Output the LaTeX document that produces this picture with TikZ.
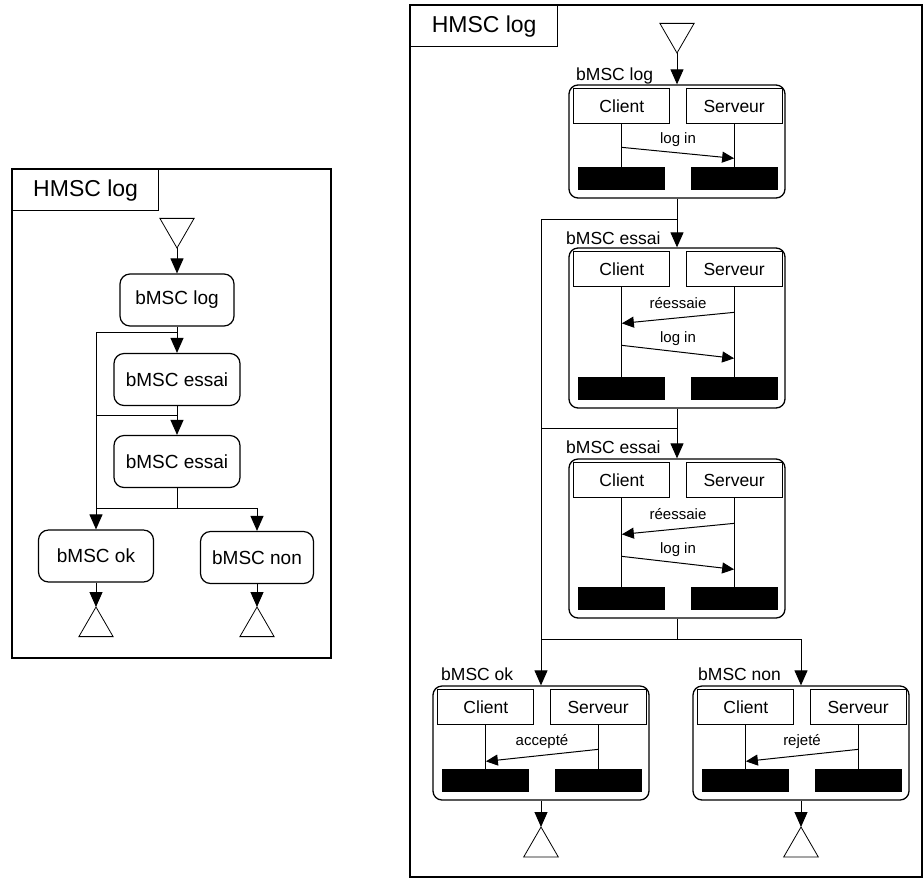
\documentclass[tikz,border=0pt]{standalone}
\usepackage{fontspec}
\setmainfont{Liberation Sans}
\usetikzlibrary{arrows.meta,positioning,shapes.geometric}

\tikzset{
  hframe/.style={draw, line width=1.3pt},
  ftitle/.style={draw, line width=1.3pt, anchor=north west, minimum height=41pt, font=\fontsize{23}{27}\selectfont},
  hbox/.style={draw, line width=1.2pt, rounded corners=10pt, minimum height=52pt, font=\fontsize{19}{22}\selectfont},
  bmsc/.style={draw, line width=1.3pt, rounded corners=9pt, minimum width=216pt},
  tag/.style={anchor=base west, inner sep=0pt, font=\fontsize{17.5}{20}\selectfont},
  head/.style={draw, line width=1pt, minimum width=96pt, minimum height=35pt, inner sep=0pt, font=\fontsize{17.5}{20}\selectfont},
  bar/.style={fill=black, minimum width=87pt, minimum height=23pt, inner sep=0pt, anchor=south},
  lbl/.style={anchor=base, yshift=9.5pt, inner sep=0pt, font=\fontsize{15}{18}\selectfont},
  flow/.style={line width=1pt, -{Triangle[length=15pt,width=13pt]}},
  msg/.style={line width=1pt, -{Triangle[length=12pt,width=11pt]}},
  begintri/.style={draw, regular polygon, regular polygon sides=3, shape border rotate=180, minimum size=39.5pt, inner sep=0pt, outer sep=0pt, line width=0.8pt, anchor=corner 1},
  endtri/.style={draw, regular polygon, regular polygon sides=3, minimum size=40pt, inner sep=0pt, outer sep=0pt, line width=0.8pt, anchor=corner 1},
}

% instance heads, life lines and end bars of one bMSC
\newcommand{\lanes}[2]{%
  \node[head, below right=4pt and 5pt of #2.north west] (#1c) {Client};
  \node[head, below left=4pt and 3pt of #2.north east] (#1s) {Serveur};
  \node[bar] (#1cb) at ([yshift=8pt]#2.south -| #1c) {};
  \node[bar] (#1sb) at ([yshift=8pt]#2.south -| #1s) {};
  \draw[line width=1pt] (#1c) -- (#1cb);
  \draw[line width=1pt] (#1s) -- (#1sb);
}

\begin{document}
\begin{tikzpicture}[x=1pt, y=-1pt]
\useasboundingbox (0,0) rectangle (923,879);

% short HMSC
\draw[hframe] (12,169) rectangle (331,658);
\node[ftitle, minimum width=146pt] (lhead) at (12,169) {HMSC log};
\node[begintri] (lstart) at (177,248) {};
\node[hbox, minimum width=114pt] (llog) at (177,300) {bMSC log};
\node[hbox, minimum width=126pt] (lessA) at (177,379.5) {bMSC essai};
\node[hbox, minimum width=126pt] (lessB) at (177,461.5) {bMSC essai};
\node[hbox, minimum width=115pt] (lok) at (96,556) {bMSC ok};
\node[hbox, minimum width=113pt] (lnon) at (257,557.5) {bMSC non};
\node[endtri, minimum size=39.5pt] (lokend) at (96,607) {};
\node[endtri, minimum size=39.5pt] (lnonend) at (257,607) {};
\coordinate (lj1) at (96,332);
\coordinate (lj2) at (96,415);
\coordinate (lj3) at (177,508);

\draw[flow] (lstart.corner 1) -- (llog);
\draw[flow] (llog) -- (lessA);
\draw[line width=1pt] (lj1) -- (lj1 -| llog);
\draw[flow] (lj1) -- (lok);
\draw[flow] (lessA) -- (lessB);
\draw[line width=1pt] (lj2) -- (lj2 -| lessA);
\draw[line width=1pt] (lessB) -- (lj3);
\draw[line width=1pt] (lj3 -| lok) -- (lj3 -| lnon);
\draw[flow] (lj3 -| lnon) -- (lnon);
\draw[flow] (lok) -- (lokend.corner 1);
\draw[flow] (lnon) -- (lnonend.corner 1);

% full HMSC
\draw[hframe] (410,5) rectangle (922,877);
\node[ftitle, minimum width=147pt] (rhead) at (410,5) {HMSC log};
\node[begintri] (rstart) at (677,53) {};

\node[bmsc, minimum height=113pt] (rlog) at (677,141.5) {};
\node[tag] (rlogt) at (576,80) {bMSC log};
\lanes{g}{rlog}
\draw[msg] ([yshift=-23pt]gc.south) -- node[lbl] {log in} ([yshift=-34pt]gs.south);

\node[bmsc, minimum height=160pt] (ressA) at (677,328) {};
\node[tag] (ressAt) at (566,244) {bMSC essai};
\lanes{a}{ressA}
\draw[msg] ([yshift=-25pt]as.south) -- node[lbl] {réessaie} ([yshift=-36pt]ac.south);
\draw[msg] ([yshift=-58pt]ac.south) -- node[lbl] {log in} ([yshift=-71pt]as.south);

\node[bmsc, minimum height=159pt] (ressB) at (677,538.5) {};
\node[tag] (ressBt) at (566,453) {bMSC essai};
\lanes{b}{ressB}
\draw[msg] ([yshift=-25pt]bs.south) -- node[lbl] {réessaie} ([yshift=-36pt]bc.south);
\draw[msg] ([yshift=-58pt]bc.south) -- node[lbl] {log in} ([yshift=-71pt]bs.south);

\node[bmsc, minimum height=114pt] (rok) at (541,743) {};
\node[tag] (rokt) at (441,680) {bMSC ok};
\lanes{k}{rok}
\draw[msg] ([yshift=-24pt]ks.south) -- node[lbl] {accepté} ([yshift=-36pt]kc.south);

\node[bmsc, minimum height=114pt] (rnon) at (801,743) {};
\node[tag] (rnont) at (698,680) {bMSC non};
\lanes{n}{rnon}
\draw[msg] ([yshift=-24pt]ns.south) -- node[lbl] {rejeté} ([yshift=-36pt]nc.south);

\node[endtri] (rokend) at (541,827) {};
\node[endtri] (rnonend) at (801,827) {};
\coordinate (rj1) at (677,219);
\coordinate (rj2) at (677,428);
\coordinate (rj3) at (677,639);

\draw[flow] (rstart.corner 1) -- (rlog);
\draw[line width=1pt] (rlog) -- (rj1);
\draw[line width=1pt] (rj1) -- (rj1 -| rok);
\draw[flow] (rj1) -- (ressA);
\draw[flow] (rj1 -| rok) -- (rok);
\draw[line width=1pt] (ressA) -- (rj2);
\draw[line width=1pt] (rj2) -- (rj2 -| rok);
\draw[flow] (rj2) -- (ressB);
\draw[line width=1pt] (ressB) -- (rj3);
\draw[line width=1pt] (rj3 -| rok) -- (rj3 -| rnon);
\draw[flow] (rj3 -| rnon) -- (rnon);
\draw[flow] (rok) -- (rokend.corner 1);
\draw[flow] (rnon) -- (rnonend.corner 1);
\end{tikzpicture}
\end{document}
